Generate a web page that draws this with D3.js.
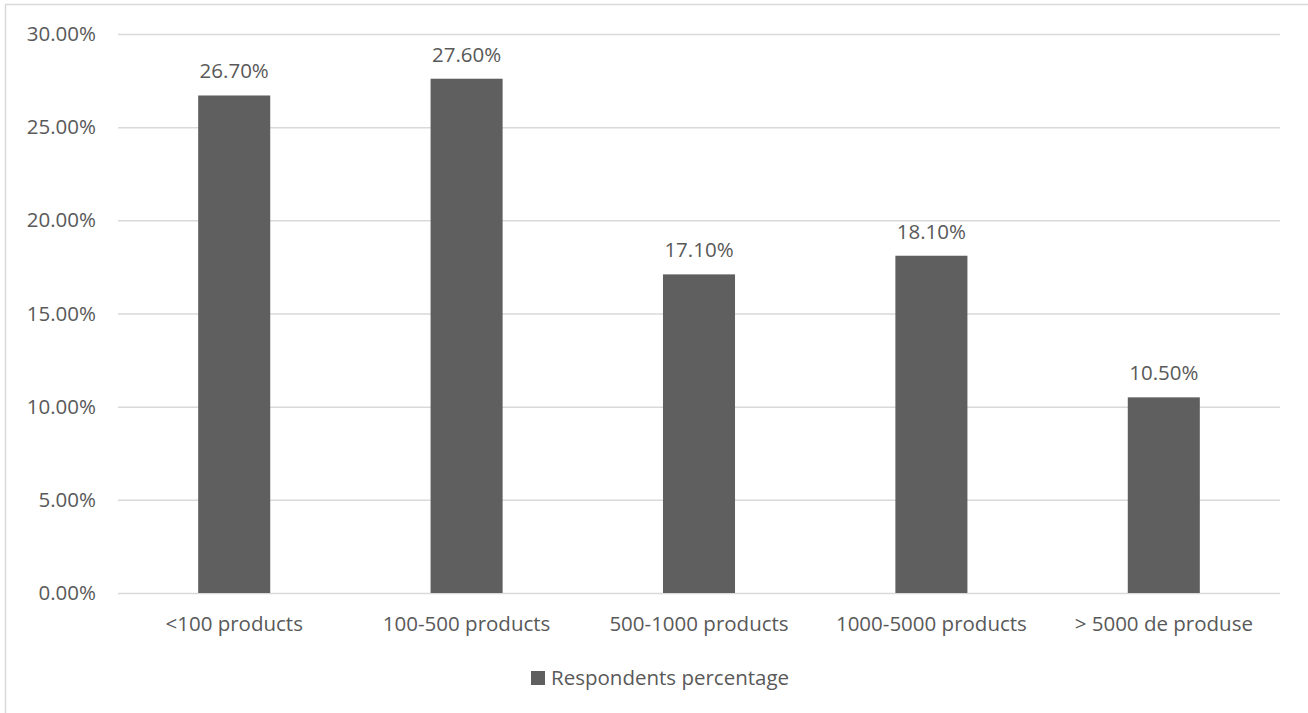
<!DOCTYPE html>
<html>
<head>
<meta charset="utf-8">
<script src="https://cdn.jsdelivr.net/npm/d3@7"></script>
<style>
  html, body { margin: 0; padding: 0; background: #fff; }
  svg { display: block; }
  text { font-family: "Open Sans", "Noto Sans", sans-serif; fill: #595959; }
</style>
</head>
<body>
<svg id="chart" width="1308" height="713"></svg>
<script>
const categories = ["<100 products", "100-500 products", "500-1000 products", "1000-5000 products", "> 5000 de produse"];
const values = [26.7, 27.6, 17.1, 18.1, 10.5];
const yTicks = [0, 5, 10, 15, 20, 25, 30];
const seriesName = "Respondents percentage";

const svg = d3.select("#chart");
const W = 1308, H = 713;
const margin = { left: 118, right: 28, top: 34, bottom: 120 };
const fs = 20.5;

// chart border
svg.append("rect")
  .attr("x", 5.5).attr("y", 4.5)
  .attr("width", W + 10).attr("height", H + 10)
  .attr("fill", "none").attr("stroke", "#d9d9d9").attr("stroke-width", 1.5);

const x = d3.scaleBand().domain(categories)
  .range([margin.left, W - margin.right]).paddingInner(0.69).paddingOuter(0.345);
const y = d3.scaleLinear().domain([0, 30]).range([593, margin.top]);

// gridlines
const grid = svg.append("g")
  .attr("transform", `translate(${margin.left},0)`)
  .call(d3.axisLeft(y).tickValues(yTicks).tickSize(-(W - margin.right - margin.left)).tickFormat(""));
grid.select(".domain").remove();
grid.selectAll("line").attr("stroke", "#d9d9d9").attr("stroke-width", 1.5);

// y labels
const yAxis = svg.append("g")
  .attr("transform", `translate(96,0)`)
  .call(d3.axisLeft(y).tickValues(yTicks).tickSize(0).tickPadding(0).tickFormat(d => d.toFixed(2) + "%"));
yAxis.select(".domain").remove();
yAxis.selectAll("text").attr("font-size", fs).attr("fill", "#595959")
  .style("font-family", '"Open Sans", "Noto Sans", sans-serif');

// bars
svg.append("g").selectAll("rect").data(values).join("rect")
  .attr("x", (d, i) => x(categories[i]))
  .attr("width", x.bandwidth())
  .attr("y", d => y(d))
  .attr("height", d => y(0) - y(d))
  .attr("fill", "#5f5f5f");

// data labels
svg.append("g").selectAll("text").data(values).join("text")
  .attr("x", (d, i) => x(categories[i]) + x.bandwidth() / 2)
  .attr("y", d => y(d) - 17)
  .attr("text-anchor", "middle")
  .attr("font-size", fs)
  .text(d => d.toFixed(2) + "%");

// x labels
const xAxis = svg.append("g")
  .attr("transform", `translate(0,${y(0)})`)
  .call(d3.axisBottom(x).tickSize(0).tickPadding(0));
xAxis.select(".domain").remove();
xAxis.selectAll("text").attr("font-size", fs).attr("fill", "#595959")
  .attr("dy", null).attr("y", 38)
  .style("font-family", '"Open Sans", "Noto Sans", sans-serif');

// legend
const lg = svg.append("g");
lg.append("rect").attr("x", 531).attr("y", 671).attr("width", 14).attr("height", 14).attr("fill", "#5f5f5f");
lg.append("text").attr("x", 551).attr("y", 685).attr("font-size", fs).text(seriesName);
</script>
</body>
</html>
